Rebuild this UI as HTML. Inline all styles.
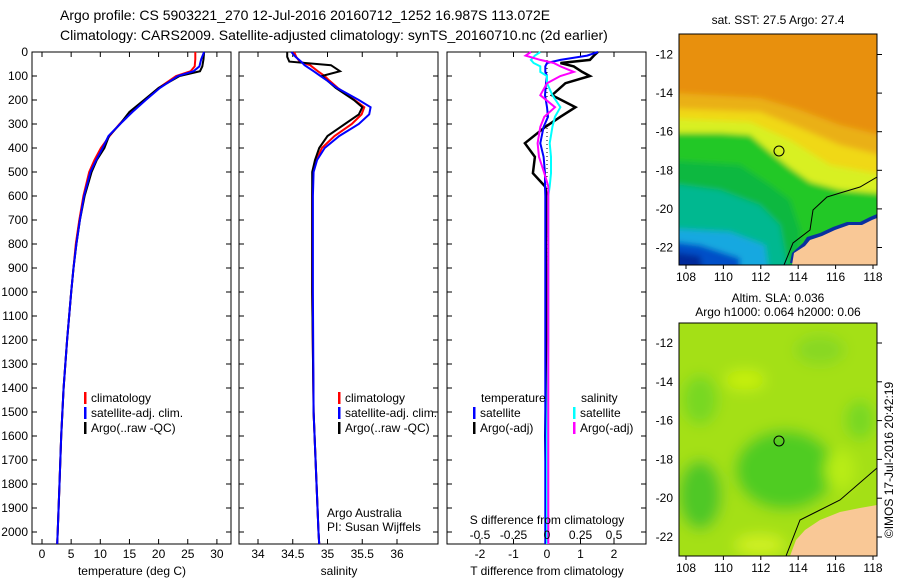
<!DOCTYPE html>
<html><head><meta charset="utf-8"><style>
body{margin:0;background:#fff;}
svg{display:block;font-family:"Liberation Sans",sans-serif;}
</style></head><body>
<svg id="fig" width="900" height="580" viewBox="0 0 900 580">
<g font-size="14" fill="#000">
<text x="60" y="20">Argo profile: CS 5903221_270 12-Jul-2016 20160712_1252 16.987S 113.072E</text>
<text x="60" y="40">Climatology: CARS2009. Satellite-adjusted climatology: synTS_20160710.nc (2d earlier)</text>
</g>
<defs>
<clipPath id="m1"><rect x="679" y="34" width="198" height="231"/></clipPath>
<clipPath id="m2"><rect x="679" y="323" width="198" height="233"/></clipPath>
<filter id="bl" x="-10%" y="-10%" width="120%" height="120%"><feGaussianBlur stdDeviation="3"/></filter>
<filter id="bl2" x="-10%" y="-10%" width="120%" height="120%"><feGaussianBlur stdDeviation="7"/></filter>
</defs>
<g>
<text x="778" y="24" text-anchor="middle" font-size="12">sat. SST: 27.5 Argo: 27.4</text>
<g clip-path="url(#m1)">
<g filter="url(#bl)">
<rect x="660" y="20" width="240" height="260" fill="#e8900c"/>
<polygon points="660,92 760,98 800,110 840,125 900,140 900,280 660,280" fill="#eab018"/>
<polygon points="660,108 760,112 800,128 840,145 900,160 900,280 660,280" fill="#f0d818"/>
<polygon points="660,118 750,122 790,140 830,165 900,178 900,280 660,280" fill="#d8f020"/>
<polygon points="660,133 720,133 750,135 770,152 790,168 810,182 840,190 900,195 900,280 660,280" fill="#20c828"/>
<polygon points="660,160 740,165 770,185 790,200 800,230 800,280 660,280" fill="#10b840"/>
<polygon points="660,182 720,190 760,205 780,225 790,280 660,280" fill="#00b890"/>
<polygon points="660,228 730,232 765,245 770,280 660,280" fill="#18a8e0"/>
<polygon points="660,240 700,245 740,258 740,280 660,280" fill="#0050c8"/>
<polygon points="660,250 700,256 705,280 660,280" fill="#002a9a"/>
</g>
<polygon points="790,263 792,253 803,243 807,237 820,233 833,227 847,222 860,222 870,217 877,214 877,265" fill="#0a30a0"/>
<polygon points="792,265 794,253 805,246 810,240 822,236 835,230 849,225 862,225 872,220 877,218 877,265" fill="#f9c896"/>
<polyline points="784,265 793,243 810,230 813,210 827,197 840,193 860,187 877,177" fill="none" stroke="#000" stroke-width="1"/>
</g>
<rect x="679" y="34" width="198" height="231" fill="none" stroke="#000"/>
<circle cx="779" cy="151" r="5" fill="none" stroke="#000"/>
<g font-size="12" text-anchor="end" id="lat1"></g>
<g font-size="12" text-anchor="middle" id="lon1"></g>
</g>
<g>
<text x="778" y="302" text-anchor="middle" font-size="12">Altim. SLA: 0.036</text>
<text x="778" y="316" text-anchor="middle" font-size="12">Argo h1000: 0.064 h2000: 0.06</text>
<g clip-path="url(#m2)">
<g filter="url(#bl2)">
<rect x="660" y="310" width="240" height="260" fill="#a4e018"/>
<ellipse cx="700" cy="400" rx="18" ry="25" fill="#78d820"/>
<ellipse cx="785" cy="470" rx="50" ry="40" fill="#50cc20"/>
<ellipse cx="700" cy="495" rx="22" ry="35" fill="#50c828"/>
<ellipse cx="860" cy="420" rx="15" ry="20" fill="#78d820"/>
<ellipse cx="820" cy="350" rx="25" ry="15" fill="#88d820"/>
<ellipse cx="745" cy="380" rx="20" ry="10" fill="#c8f010"/>
<ellipse cx="840" cy="470" rx="15" ry="20" fill="#b8ec18"/>
<ellipse cx="760" cy="545" rx="25" ry="10" fill="#d0f020"/>
</g>
<polygon points="790,556 796,540 805,530 820,520 840,512 860,508 877,505 877,556" fill="#f9c896"/>
<polyline points="786,556 800,520 820,510 840,500 877,468" fill="none" stroke="#000" stroke-width="1"/>
</g>
<rect x="679" y="323" width="198" height="233" fill="none" stroke="#000"/>
<circle cx="779" cy="441" r="5" fill="none" stroke="#000"/>
<g font-size="12" text-anchor="end" id="lat2"></g>
<g font-size="12" text-anchor="middle" id="lon2"></g>
</g>
<text transform="translate(893,460) rotate(-90)" text-anchor="middle" font-size="12">©IMOS 17-Jul-2016 20:42:19</text>
<g id="plots"></g>
</svg>
<script>
// data
const depthTicks=[0,100,200,300,400,500,600,700,800,900,1000,1100,1200,1300,1400,1500,1600,1700,1800,1900,2000];
const tempTicks=[0,5,10,15,20,25,30];
const salTicks=[34,34.5,35,35.5,36];
const tdiffTicks=[-2,-1,0,1,2];
const sdiffTicks=["-0.5","-0.25","0","0.25","0.5"];
const sdiffTickVals=[-0.5,-0.25,0,0.25,0.5];
const latTicks=[-12,-14,-16,-18,-20,-22];
const lonTicks=[108,110,112,114,116,118];

const tDepth=[0,30,60,80,100,150,200,250,300,350,400,450,500,600,700,800,900,1000,1200,1400,1600,1800,2000,2050];
const tClim=[26.3,26.3,26.2,25.5,23,20,17.6,15.3,13.3,11.6,10.1,9.0,8.1,7.1,6.4,5.8,5.4,5.0,4.3,3.7,3.3,3.0,2.7,2.6];
const tSat=[27.8,27.3,27.0,26,23.3,20.2,17.8,15.5,13.4,11.4,10.4,9.3,8.3,7.2,6.5,5.9,5.4,5.0,4.3,3.7,3.3,3.0,2.7,2.6];
const tArgo=[27.8,27.7,27.5,27.1,23.6,20.0,17.5,15.0,13.4,11.5,10.7,9.4,8.5,7.3,6.5,5.9,5.4,5.0,4.3,3.7,3.3,3.0,2.7,2.6];

const sDepth=[0,20,40,55,80,100,120,150,200,230,260,300,350,400,450,500,600,1000,1500,2000,2050];
const sClim=[34.52,34.55,34.6,34.75,34.86,34.96,35.03,35.15,35.39,35.53,35.49,35.35,35.1,34.92,34.84,34.79,34.78,34.78,34.8,34.87,34.88];
const sSat=[34.48,34.54,34.62,34.67,34.8,34.9,35.0,35.14,35.45,35.62,35.6,35.45,35.17,34.96,34.85,34.8,34.79,34.79,34.8,34.87,34.88];
const sArgo=[34.42,34.42,34.45,35.05,35.18,34.92,35.0,35.12,35.38,35.5,35.45,35.25,35.0,34.88,34.82,34.78,34.78,34.78,34.8,34.87,34.88];

const dDepth=[0,15,33,46,60,83,100,130,180,230,270,312,380,437,505,560,600,800,1200,1600,2000,2050];
const dTArgo=[1.52,1.4,1.28,0.4,0.8,1.05,1.28,0.55,0.15,0.85,0.4,-0.05,-0.66,-0.36,-0.42,-0.06,0,-0.03,0,-0.05,0,0];
const dTSat=[1.52,1.2,0.4,0.0,-0.05,-0.05,0,-0.03,-0.06,0,0.03,-0.1,-0.2,-0.1,-0.06,-0.06,-0.05,-0.05,-0.05,-0.05,-0.05,-0.05];
const dSArgo=[-0.12,-0.16,-0.05,0.05,0.1,0.2,0.1,0.0,-0.05,0.06,-0.02,-0.05,-0.07,-0.06,-0.02,0.01,0.01,0.01,0.01,0.01,0.01,0.01];
const dSCyan=[-0.05,-0.09,-0.12,-0.1,-0.05,-0.05,0,0.0,0.04,0.1,0.06,0.04,0.02,0.03,0.03,0.02,0.01,0.01,0.01,0.0,0.0,0.0];

const NS='http://www.w3.org/2000/svg';
const root=document.getElementById('plots');
function mk(tag,attrs,parent){const e=document.createElementNS(NS,tag);for(const k in attrs)e.setAttribute(k,attrs[k]);(parent||root).appendChild(e);return e;}
const Y0=52,YB=544;
function yD(d){return Y0+d*0.24;}

depthTicks.forEach(d=>{const t=mk('text',{x:28,y:yD(d)+4,'text-anchor':'end','font-size':12});t.textContent=d;

});

function panel(x0,name,ticks,labels,fx,xlabel,xlabelY){
  const g=mk('g',{});
  
  
  mk('rect',{x:x0,y:Y0,width:199,height:YB-Y0,fill:'none',stroke:'#000'},g);
  depthTicks.forEach(d=>{mk('line',{x1:x0,x2:x0+5,y1:yD(d),y2:yD(d),stroke:'#000'},g);mk('line',{x1:x0+194,x2:x0+199,y1:yD(d),y2:yD(d),stroke:'#000'},g);});
  ticks.forEach((v,i)=>{const x=fx(v);mk('line',{x1:x,x2:x,y1:YB,y2:YB-5,stroke:'#000'},g);mk('line',{x1:x,x2:x,y1:Y0,y2:Y0+5,stroke:'#000'},g);
    const t=mk('text',{x:x,y:YB+14,'text-anchor':'middle','font-size':12},g);t.textContent=labels[i];
    
    });
  const t=mk('text',{x:x0+100,y:xlabelY,'text-anchor':'middle','font-size':12},g);t.textContent=xlabel;
  
  
  return g;
}
function line(g,depths,vals,fx,color,nm,w){
  const p=mk('polyline',{points:depths.map((d,i)=>fx(vals[i]).toFixed(1)+','+yD(d).toFixed(1)).join(' '),fill:'none',stroke:color,'stroke-width':w||2},g);
  
  
}
function leg(g,x,y,color,txt){
  mk('rect',{x:x,y:y-10,width:2.5,height:12,fill:color},g);
  const t=mk('text',{x:x+7,y:y,'font-size':12},g);t.textContent=txt;
  
  
}
const fT=v=>42+v*5.83;
const g1=panel(32,'temperature-panel',tempTicks,tempTicks,fT,'temperature (deg C)',575);
line(g1,tDepth,tClim,fT,'#f00','temp-climatology-line');
line(g1,tDepth,tArgo,fT,'#000','temp-argo-line');
line(g1,tDepth,tSat,fT,'#00f','temp-satellite-line');
leg(g1,84,402,'#f00','climatology');leg(g1,84,417,'#00f','satellite-adj. clim.');leg(g1,84,432,'#000','Argo(..raw -QC)');
const fS=v=>258+(v-34)*69.5;
const g2=panel(239,'salinity-panel',salTicks,salTicks,fS,'salinity',575);
line(g2,sDepth,sClim,fS,'#f00','sal-climatology-line');
line(g2,sDepth,sArgo,fS,'#000','sal-argo-line');
line(g2,sDepth,sSat,fS,'#00f','sal-satellite-line');
leg(g2,338,402,'#f00','climatology');leg(g2,338,417,'#00f','satellite-adj. clim.');leg(g2,338,432,'#000','Argo(..raw -QC)');
let t=mk('text',{x:327,y:517,'font-size':12},g2);t.textContent='Argo Australia';


t=mk('text',{x:327,y:531,'font-size':12},g2);t.textContent='PI: Susan Wijffels';


const fDT=v=>547+v*33.5;
const fDS=v=>547+v*134;
const g3=panel(447,'difference-panel',tdiffTicks,tdiffTicks,fDT,'T difference from climatology',575);
mk('line',{x1:547,x2:547,y1:Y0,y2:YB,stroke:'#000','stroke-dasharray':'1,3'},g3);
line(g3,dDepth,dTArgo,fDT,'#000','tdiff-argo-line',2.5);
line(g3,dDepth,dTSat,fDT,'#00f','tdiff-satellite-line');
line(g3,dDepth,dSCyan,fDS,'#0ff','sdiff-satellite-line');
line(g3,dDepth,dSArgo,fDS,'#f0f','sdiff-argo-line');
sdiffTickVals.forEach((v,i)=>{const tt=mk('text',{x:fDS(v),y:539,'text-anchor':'middle','font-size':12},g3);tt.textContent=sdiffTicks[i];

});
t=mk('text',{x:547,y:524,'text-anchor':'middle','font-size':12},g3);t.textContent='S difference from climatology';


t=mk('text',{x:481,y:402,'font-size':12},g3);t.textContent='temperature';


t=mk('text',{x:581,y:402,'font-size':12},g3);t.textContent='salinity';


leg(g3,473,417,'#00f','satellite');leg(g3,473,432,'#000','Argo(-adj)');
leg(g3,573,417,'#0ff','satellite');leg(g3,573,432,'#f0f','Argo(-adj)');

function mapAxes(latId,lonId,top,bot,lat0y,perLat){
  const gl=document.getElementById(latId),gn=document.getElementById(lonId);
  latTicks.forEach(v=>{const y=lat0y+(-12-v)*perLat;
    mk('line',{x1:877,x2:882,y1:y,y2:y,stroke:'#000'},gl);
    const tt=mk('text',{x:673,y:y+4},gl);tt.textContent=v;
    
    });
  lonTicks.forEach(v=>{const x=686+(v-108)*18.7;
    mk('line',{x1:x,x2:x,y1:bot,y2:bot+4,stroke:'#000'},gn);
    const tt=mk('text',{x:x,y:bot+16},gn);tt.textContent=v;
    
    });
}
mapAxes('lat1','lon1',34,265,54.5,19.3);
mapAxes('lat2','lon2',323,556,343,19.4);
</script>
</body></html>
